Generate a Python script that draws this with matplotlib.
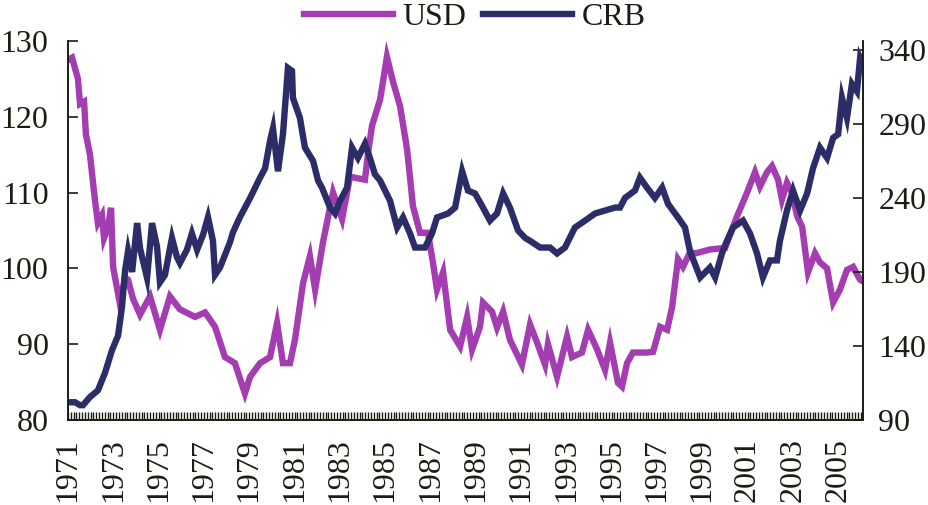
#USD index vs CRB commodity index, monthly 1971-2006
import numpy as np
import matplotlib.pyplot as plt
from matplotlib.ticker import MultipleLocator

plt.rcParams['font.family'] = ['Liberation Serif', 'DejaVu Serif']

# USD index (left axis)
usd_year = [1971.00, 1971.18, 1971.44, 1971.53, 1971.71, 1971.79, 1971.97, 1972.19, 1972.32, 1972.50,
            1972.59, 1972.77, 1972.90, 1972.99, 1973.30, 1973.52, 1973.65, 1973.87, 1974.18, 1974.62,
            1975.06, 1975.50, 1975.94, 1976.61, 1977.05, 1977.49, 1977.93, 1978.37, 1978.81, 1979.04,
            1979.48, 1979.92, 1980.23, 1980.49, 1980.80, 1981.02, 1981.38, 1981.68, 1981.91, 1982.26,
            1982.70, 1983.10, 1983.45, 1984.11, 1984.25, 1984.42, 1984.78, 1985.08, 1985.35, 1985.66,
            1985.97, 1986.23, 1986.54, 1986.89, 1987.11, 1987.29, 1987.56, 1987.87, 1988.31, 1988.62,
            1988.84, 1989.19, 1989.32, 1989.72, 1989.94, 1990.21, 1990.51, 1991.04, 1991.40, 1991.71,
            1992.06, 1992.19, 1992.59, 1993.03, 1993.25, 1993.69, 1993.96, 1994.36, 1994.71, 1994.93,
            1995.28, 1995.46, 1995.68, 1995.94, 1996.56, 1996.83, 1997.14, 1997.45, 1997.67, 1997.93,
            1998.15, 1998.46, 1998.73, 1999.34, 2000.01, 2000.54, 2000.98, 2001.33, 2001.55, 2001.86,
            2002.08, 2002.35, 2002.52, 2002.74, 2002.96, 2003.19, 2003.41, 2003.67, 2003.98, 2004.20,
            2004.51, 2004.78, 2005.08, 2005.39, 2005.66, 2005.97, 2006.10]
usd = [127.5, 127.8, 125.0, 121.7, 122.0, 117.7, 115.0, 109.0, 106.0, 107.0,
       104.0, 105.5, 108.0, 100.2, 95.2, 98.8, 98.5, 96.0, 93.9, 96.3,
       91.9, 96.3, 94.6, 93.6, 94.2, 92.3, 88.3, 87.5, 83.5, 85.7,
       87.5, 88.3, 92.8, 87.5, 87.5, 90.6, 98.1, 101.6, 97.2, 103.5,
       110.0, 106.5, 112.1, 111.7, 115.3, 118.8, 122.3, 127.9, 124.6, 121.4,
       115.7, 108.2, 104.7, 104.7, 100.8, 97.2, 99.5, 91.9, 89.7, 93.6,
       89.3, 92.3, 95.5, 94.3, 92.2, 94.3, 90.6, 87.3, 92.6, 90.2,
       87.3, 90.0, 85.7, 91.0, 88.3, 88.9, 91.9, 89.3, 86.6, 90.2,
       84.9, 84.4, 87.5, 88.9, 88.9, 89.0, 92.3, 91.9, 94.9, 101.2,
       100.2, 102.1, 102.0, 102.5, 102.7, 106.9, 110.0, 112.7, 110.8, 112.7,
       113.5, 111.7, 109.1, 111.3, 110.0, 106.9, 105.5, 99.5, 102.0, 100.8,
       100.0, 95.5, 97.2, 99.8, 100.2, 98.5, 98.3]

# CRB index (right axis)
crb_year = [1971.00, 1971.31, 1971.53, 1971.66, 1971.97, 1972.32, 1972.63, 1972.94, 1973.21, 1973.38,
            1973.52, 1973.65, 1973.83, 1974.05, 1974.18, 1974.49, 1974.71, 1974.93, 1975.06, 1975.28,
            1975.59, 1975.81, 1975.94, 1976.25, 1976.47, 1976.70, 1976.96, 1977.18, 1977.40, 1977.49,
            1977.71, 1978.15, 1978.28, 1978.59, 1979.04, 1979.48, 1979.70, 1979.92, 1980.05, 1980.27,
            1980.49, 1980.71, 1980.89, 1980.93, 1981.24, 1981.46, 1981.82, 1982.04, 1982.21, 1982.57,
            1982.79, 1983.01, 1983.32, 1983.54, 1983.80, 1984.11, 1984.33, 1984.55, 1984.78, 1985.22,
            1985.53, 1985.79, 1986.10, 1986.32, 1986.76, 1987.07, 1987.29, 1987.78, 1988.09, 1988.40,
            1988.66, 1988.97, 1989.32, 1989.63, 1989.94, 1990.21, 1990.51, 1990.87, 1991.18, 1991.40,
            1991.84, 1992.28, 1992.59, 1992.94, 1993.38, 1993.83, 1994.27, 1994.71, 1995.15, 1995.37,
            1995.59, 1996.03, 1996.25, 1996.56, 1996.91, 1997.23, 1997.49, 1997.93, 1998.24, 1998.46,
            1998.91, 1999.34, 1999.57, 1999.87, 2000.09, 2000.36, 2000.80, 2001.11, 2001.42, 2001.68,
            2001.99, 2002.30, 2002.43, 2002.74, 2003.01, 2003.32, 2003.63, 2003.89, 2004.20, 2004.51,
            2004.78, 2005.00, 2005.17, 2005.39, 2005.61, 2005.83, 2005.97, 2006.10]
crb = [102, 102, 100, 100, 105.5, 110, 121.7, 137, 147, 166,
       191, 204, 190, 223, 206, 186, 223, 207, 183, 188,
       213, 200, 196, 205, 216, 205, 215, 227, 211, 188,
       193, 210, 216.7, 227, 240, 253.7, 260, 278.6, 287, 258,
       283, 327.8, 325.8, 307.6, 294, 274, 265, 251.7, 247, 233.5,
       229.5, 238, 247, 274, 267, 276.6, 267, 256, 251.7, 238,
       220, 226.8, 216, 206.5, 206.5, 216, 226.8, 229.5, 233.5, 258,
       245, 243, 233.5, 224.7, 229.5, 243, 233.5, 218, 213, 211,
       206.5, 206.5, 202.5, 206.5, 220, 224.7, 229.5, 231.5, 233.5, 233.5,
       240, 245, 253.7, 247, 240, 247, 236, 226.8, 220, 204,
       186.3, 193, 186.3, 202.5, 211, 220, 224.7, 216, 202.5, 186.3,
       197.8, 197.8, 211, 231.5, 245, 231.5, 243, 260, 274, 267,
       280.6, 283, 307.6, 294, 317, 312, 334.5, 330]

year_labels = list(range(1971, 2006, 2))

ink = '#1c1c12'
fig = plt.figure(figsize=(9.29, 5.05), dpi=100)
ax = fig.add_axes([0.0732, 0.1683, 0.8558, 0.7505])
ax2 = ax.twinx()

l1, = ax.plot(usd_year, usd, color='#a33db1', lw=4.6, solid_joinstyle='miter')
l2, = ax2.plot(crb_year, crb, color='#2c2d68', lw=4.6, solid_joinstyle='miter')

ax.set_xlim(1971, 2006.1)
ax.set_ylim(80, 130)
ax.set_yticks(np.arange(80, 131, 10))
ax2.set_ylim(90, 346)
ax2.set_yticks(np.arange(90, 341, 50))

ax.set_xticks(year_labels)
ax.set_xticklabels([str(y) for y in year_labels], rotation=90)
ax.xaxis.set_minor_locator(MultipleLocator(1 / 8))

for a in (ax, ax2):
    a.spines['top'].set_visible(False)
    for s in a.spines.values():
        s.set_color(ink)
        s.set_linewidth(1.2)
ax.tick_params(axis='x', which='both', direction='in', length=6, width=1, colors=ink,
               labelsize=23, pad=13)
ax.tick_params(axis='y', direction='in', length=7, width=1.2, colors=ink, labelsize=23, pad=14)
ax2.tick_params(axis='y', direction='in', length=7, width=1.2, colors=ink, labelsize=23, pad=11)

fig.legend([l1, l2], ['USD', 'CRB'], loc='center', bbox_to_anchor=(0.511, 0.966), ncol=2,
           frameon=False, fontsize=23, handlelength=2.8, handletextpad=0.3, columnspacing=0.5,
           labelcolor=ink, borderpad=0)

plt.savefig('out.png', dpi=100)
